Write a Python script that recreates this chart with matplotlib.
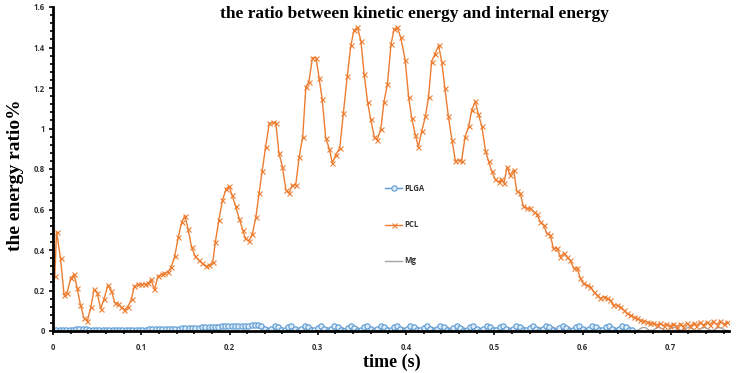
import numpy as np
import matplotlib
matplotlib.use("Agg")
import matplotlib.pyplot as plt
from matplotlib.ticker import MultipleLocator, FuncFormatter

# ---------------- data ----------------
pcl_t = [0.002,0.004,0.0085,0.0125,0.016,0.020,0.024,0.0275,0.031,0.035,
         0.039,0.043,0.0465,0.050,0.054,0.058,0.062,0.066,0.070,0.074,
         0.077,0.081,0.085,0.089,0.092,0.096,0.100,0.104,0.108,0.111,
         0.115,0.119,0.123,0.126,0.130,0.134,0.138,0.142,0.146,0.1495,
         0.153,0.157,0.161,0.165,0.169,0.173,0.177,0.181,0.184,0.188,
         0.192,0.196,0.1995,0.203,0.207,0.211,0.215,0.218,0.222,0.226,
         0.230,0.2335,0.237,0.241,0.245,0.249,0.2525,0.256,0.260,0.264,
         0.2675,0.271,0.275,0.279,0.283,0.2865,0.290,0.294,0.298,0.3015,
         0.305,0.309,0.313,0.3165,0.3205,0.325,0.329,0.3335,0.3375,0.341,
         0.345,0.349,0.3525,0.3565,0.360,0.364,0.3675,0.3715,0.375,0.379,
         0.383,0.3865,0.390,0.394,0.399,0.403,0.4065,0.4105,0.414,0.418,
         0.422,0.4255,0.429,0.433,0.437,0.4405,0.444,0.448,0.452,0.456,
         0.4595,0.463,0.467,0.471,0.4745,0.4785,0.482,0.486,0.490,0.4935,
         0.497,0.501,0.505,0.508,0.511,0.5145,0.518,0.522,0.5255,0.5295,
         0.533,0.537,0.541,0.5445,0.548,0.552,0.556,0.5595,0.5635,0.567,
         0.571,0.575,0.5785,0.582,0.586,0.590,0.594,0.5975,0.601,0.605,
         0.609,0.6125,0.616,0.620,0.624,0.628,0.6315,0.635,0.639,0.643,
         0.6465,0.650,0.654,0.658,0.662,0.6655,0.669,0.673,0.677,0.680,
         0.684,0.688,0.692,0.695,0.699,0.703,0.707,0.711,0.714,0.718,
         0.722,0.726,0.729,0.733,0.737,0.741,0.744,0.748,0.752,0.756,
         0.760,0.764]
pcl_v = [0.27,0.49,0.36,0.18,0.19,0.26,0.28,0.21,0.13,0.065,
         0.05,0.12,0.205,0.19,0.11,0.16,0.225,0.20,0.14,0.135,
         0.12,0.105,0.12,0.16,0.22,0.23,0.23,0.23,0.235,0.255,
         0.205,0.27,0.28,0.285,0.29,0.315,0.37,0.465,0.54,0.57,
         0.505,0.415,0.37,0.35,0.335,0.32,0.325,0.34,0.44,0.55,
         0.645,0.70,0.715,0.67,0.615,0.555,0.50,0.457,0.445,0.48,
         0.565,0.68,0.79,0.91,1.025,1.03,1.025,0.88,0.81,0.695,
         0.68,0.72,0.72,0.86,0.96,1.205,1.23,1.35,1.35,1.25,
         1.145,0.955,0.90,0.83,0.87,0.905,1.075,1.26,1.41,1.485,
         1.50,1.43,1.27,1.13,1.045,0.96,0.945,1.00,1.13,1.22,
         1.415,1.49,1.50,1.45,1.34,1.155,1.05,0.97,0.91,0.99,
         1.06,1.155,1.33,1.37,1.41,1.33,1.20,1.06,0.945,0.84,
         0.845,0.84,0.96,1.01,1.09,1.135,1.07,1.01,0.89,0.84,
         0.79,0.75,0.735,0.75,0.73,0.81,0.77,0.795,0.69,0.68,
         0.617,0.606,0.606,0.589,0.58,0.54,0.523,0.482,0.474,0.408,
         0.408,0.367,0.383,0.367,0.35,0.31,0.31,0.26,0.236,0.227,
         0.219,0.194,0.178,0.161,0.17,0.161,0.153,0.128,0.128,0.12,
         0.104,0.087,0.08,0.07,0.062,0.054,0.05,0.046,0.038,0.04,
         0.03,0.038,0.026,0.036,0.024,0.036,0.022,0.036,0.022,0.038,
         0.024,0.04,0.026,0.042,0.028,0.045,0.03,0.047,0.032,0.048,
         0.034,0.045]

dt = 0.00375  # sampling interval of PLGA / Mg output

plga_pre = [0.003,0.003,0.004,0.004,0.005,0.006,0.007,0.008,0.009,0.011,
            0.009,0.007,0.006,0.005,0.004,0.004,0.004,0.004,0.004,0.004,
            0.005,0.005,0.005,0.005,0.006,0.006,0.006,0.007,0.007,0.008,
            0.008,0.009,0.009,0.010,0.010,0.011,0.011,0.012,0.012,0.013,
            0.013,0.014,0.015,0.016,0.017,0.018,0.019,0.020,0.021,0.022,
            0.022,0.023,0.024,0.024,0.025,0.025,0.026,0.026,0.027,0.027,
            0.028,0.028,0.028]
plga_cycle = [0.027,0.009,0.001,0.012,0.024,0.018,0.004,0.004,0.019,0.023,
              0.010,0.001,0.010,0.023,0.019,0.004,0.003,0.017,0.024,0.012,
              0.001,0.009,0.023,0.020,0.006,0.002,0.015,0.024,0.015,0.002,
              0.006,0.020]
mg_pre = [0.002,0.002,0.002,0.003,0.003,0.003,0.004,0.004,0.004,0.005,
          0.004,0.003,0.002,0.002,0.002,0.002,0.002,0.002,0.002,0.002,
          0.002,0.002,0.002,0.002,0.002,0.002,0.002,0.002,0.002,0.002,
          0.002,0.002,0.002,0.002,0.002,0.002,0.002,0.002,0.003,0.003,
          0.003,0.004,0.004,0.005,0.006,0.008,0.010,0.014,0.020,0.026,
          0.030,0.026,0.020,0.016,0.018,0.020,0.022,0.022,0.023,0.024,
          0.024,0.025,0.024]
mg_cycle = [0.010,0.019,0.013,0.003,0.003,0.014,0.018,0.009,0.001,0.007,
            0.018,0.015,0.004,0.002,0.013,0.019,0.010,0.001,0.006,0.017,
            0.017,0.005,0.002,0.011,0.019,0.012,0.002,0.004,0.016,0.018,
            0.006,0.001]

plga_v = plga_pre + plga_cycle * 3 + plga_cycle[:17]
mg_v = mg_pre + mg_cycle * 4 + mg_cycle[:14]
plga_t = np.arange(len(plga_v)) * dt
mg_t = np.arange(len(mg_v)) * dt

x_ticks = [0, 0.1, 0.2, 0.3, 0.4, 0.5, 0.6, 0.7]
y_ticks = [0, 0.2, 0.4, 0.6, 0.8, 1.0, 1.2, 1.4, 1.6]

title = "the ratio between kinetic energy and internal energy"
xlabel = "time (s)"
ylabel = "the energy ratio%"

# ---------------- figure ----------------
fig = plt.figure(figsize=(7.37, 3.73), dpi=100)
ax = fig.add_axes([53/737, 1-331/373, (729-53)/737, (331-7)/373])

ax.plot(plga_t, plga_v, color="#5B9BD5", lw=1.0, marker="o", ms=3.8,
        mfc="#DDEBF7", mec="#5B9BD5", mew=0.8, label="PLGA", zorder=3)
ax.plot(pcl_t, pcl_v, color="#ED7D31", lw=1.0, marker="x", ms=3.6,
        mew=0.8, label="PCL", zorder=4)
ax.plot(mg_t, mg_v, color="#A5A5A5", lw=1.0, label="Mg", zorder=2)

ax.set_xlim(0, 0.766)
ax.set_ylim(0, 1.6)
for s in ["top", "right"]:
    ax.spines[s].set_visible(False)
for s in ["left", "bottom"]:
    ax.spines[s].set_linewidth(2.0)
    ax.spines[s].set_color("black")
    ax.spines[s].set_zorder(5)

ax.set_xticks(x_ticks)
ax.set_yticks(y_ticks)
ax.xaxis.set_minor_locator(MultipleLocator(0.02))
ax.yaxis.set_minor_locator(MultipleLocator(0.04))

def fmt(v, pos):
    s = ("%.1f" % v).rstrip("0").rstrip(".")
    return s
ax.xaxis.set_major_formatter(FuncFormatter(fmt))
ax.yaxis.set_major_formatter(FuncFormatter(fmt))

ax.tick_params(axis="both", which="major", length=3, width=1.2, color="black",
               direction="out", labelsize=6, labelcolor="#333333")
ax.tick_params(axis="both", which="minor", length=2, width=1.2, color="black",
               direction="out")
ax.tick_params(axis="x", which="major", pad=6)
ax.tick_params(axis="y", which="major", pad=3)
for lab in ax.get_xticklabels() + ax.get_yticklabels():
    lab.set_fontfamily("Open Sans")
    lab.set_fontweight("bold")
    lab.set_fontsize(5.6)

fig.text(0.563, 0.962, title, ha="center", va="center",
         family="Liberation Serif", weight="bold", fontsize=12.5)
fig.text(392/737, 1-362/373, xlabel, ha="center", va="center",
         family="Liberation Serif", weight="bold", fontsize=13)
fig.text(16/737, 1-175/373, ylabel, ha="center", va="center", rotation=90,
         family="Liberation Serif", weight="bold", fontsize=14)

leg = ax.legend(loc="upper left", bbox_to_anchor=(385/737, 1-184/373),
                bbox_transform=fig.transFigure, frameon=False,
                prop=dict(family="Open Sans", weight="bold", size=5.6),
                handlelength=2.2, handletextpad=0.3, labelspacing=3.5,
                borderpad=0, borderaxespad=0)
for t in leg.get_texts():
    t.set_color("#333333")

fig.savefig("out.png", dpi=100)
